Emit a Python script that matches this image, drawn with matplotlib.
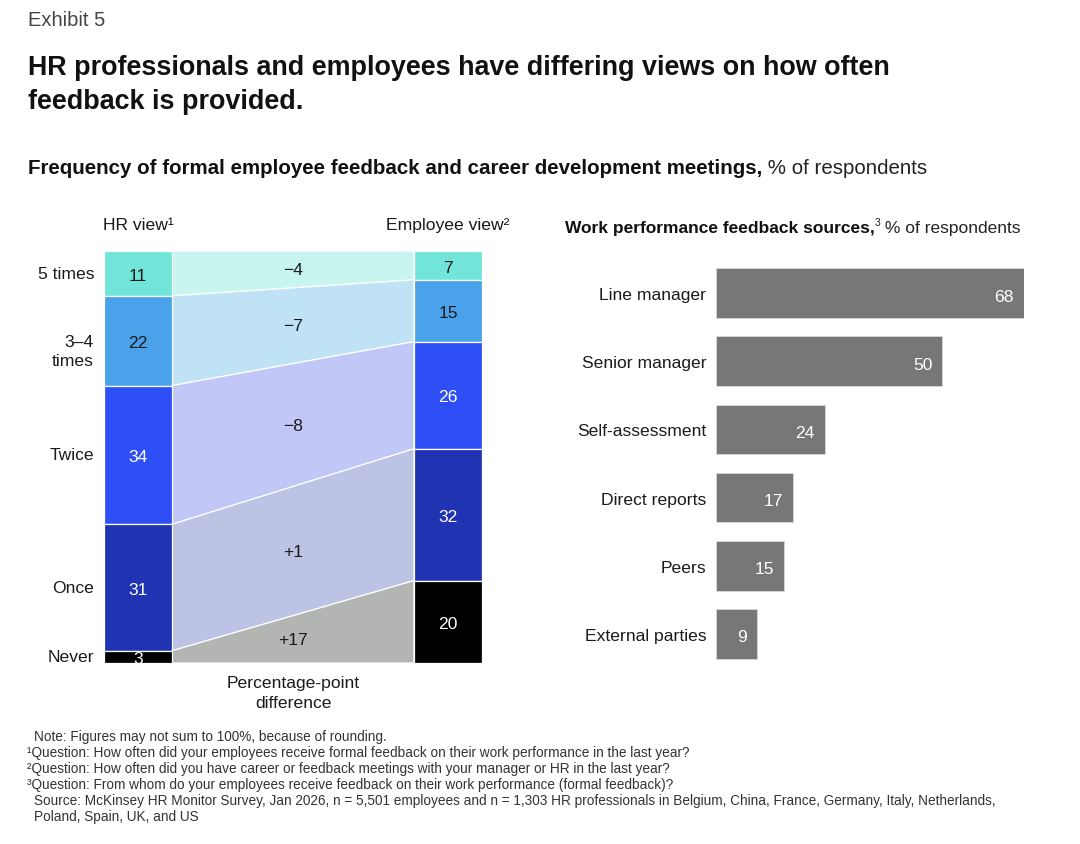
import matplotlib
matplotlib.use("Agg")
import matplotlib.pyplot as plt
from matplotlib.patches import Polygon, Rectangle
import numpy as np

plt.rcParams['font.family'] = ['Liberation Sans', 'DejaVu Sans']

# ---- data ----
freq_labels = ["5 times", "3–4\ntimes", "Twice", "Once", "Never"]
hr_view = [11, 22, 34, 31, 3]
employee_view = [7, 15, 26, 32, 20]
pp_diff = ["−4", "−7", "−8", "+1", "+17"]

sources = ["Line manager", "Senior manager", "Self-assessment", "Direct reports", "Peers", "External parties"]
source_values = [68, 50, 24, 17, 15, 9]

bar_colors = ["#71e5d8", "#4aa2ea", "#2d4ff5", "#1f33b3", "#000000"]
flow_colors = ["#c8f5f0", "#bfe3f5", "#c1c8f7", "#bcc3e4", "#b3b5b3"]
hr_text = ["#1a1a1a", "#1a1a1a", "white", "white", "white"]
emp_text = ["#1a1a1a", "#1a1a1a", "white", "white", "white"]

W, H = 1080, 845
fig = plt.figure(figsize=(W / 100, H / 100), dpi=100)
fig.patch.set_facecolor("white")

def fx(px):
    return px / W

def fy(py):
    return 1 - py / H

LBL = 12.6

# ---- titles ----
fig.text(fx(28), fy(21), "Exhibit 5", fontsize=14.5, color="#444444", va="center", ha="left")
fig.text(fx(28), fy(85), "HR professionals and employees have differing views on how often\nfeedback is provided.",
         fontsize=19.4, fontweight="bold", color="#111111", va="center", ha="left", linespacing=1.42)

renderer = fig.canvas.get_renderer()

def mixed(x_px, y_px, parts):
    x = x_px
    for txt, kw, sup in parts:
        yy = y_px - (5 if sup else 0)
        t = fig.text(fx(x), fy(yy), txt, va="center", ha="left", **kw)
        bb = t.get_window_extent(renderer=renderer)
        x += bb.width
    return x

mixed(28, 169, [("Frequency of formal employee feedback and career development meetings,",
                 dict(fontsize=14.8, fontweight="bold", color="#111111"), False),
                (" % of respondents", dict(fontsize=14.8, color="#222222"), False)])

mixed(565, 228, [("Work performance feedback sources,", dict(fontsize=12.5, fontweight="bold", color="#111111"), False),
                 ("3", dict(fontsize=7.5, color="#222222"), True),
                 (" % of respondents", dict(fontsize=12.5, color="#222222"), False)])

# ---- left: stacked comparison ----
axL = fig.add_axes([fx(104), fy(664), fx(482) - fx(104), fy(252) - fy(664)])
axL.set_xlim(0, 1)
axL.set_ylim(100, 0)
axL.axis("off")
bw = 68 / 378.0

hr_s = np.array(hr_view) * 100.0 / sum(hr_view)
emp_s = np.array(employee_view) * 100.0 / sum(employee_view)
hr_cum = np.concatenate([[0], np.cumsum(hr_s)])
emp_cum = np.concatenate([[0], np.cumsum(emp_s)])

for i in range(len(hr_view)):
    poly = Polygon([(bw, hr_cum[i]), (1 - bw, emp_cum[i]), (1 - bw, emp_cum[i + 1]), (bw, hr_cum[i + 1])],
                   closed=True, facecolor=flow_colors[i], edgecolor="white", linewidth=0.9)
    axL.add_patch(poly)
    axL.add_patch(Rectangle((0, hr_cum[i]), bw, hr_s[i], facecolor=bar_colors[i], edgecolor="white", linewidth=0.9))
    axL.add_patch(Rectangle((1 - bw, emp_cum[i]), bw, emp_s[i], facecolor=bar_colors[i], edgecolor="white", linewidth=0.9))
    axL.text(bw / 2, (hr_cum[i] + hr_cum[i + 1]) / 2 + 0.4, str(hr_view[i]), ha="center", va="center",
             fontsize=LBL, color=hr_text[i])
    axL.text(1 - bw / 2, (emp_cum[i] + emp_cum[i + 1]) / 2 + 0.4, str(employee_view[i]), ha="center", va="center",
             fontsize=LBL, color=emp_text[i])
    mid_top = (hr_cum[i] + emp_cum[i]) / 2
    mid_bot = (hr_cum[i + 1] + emp_cum[i + 1]) / 2
    axL.text(0.5, (mid_top + mid_bot) / 2, pp_diff[i], ha="center", va="center", fontsize=LBL, color="#1a1a1a")
    dy = -10 if "\n" in freq_labels[i] else 0
    axL.annotate(freq_labels[i], xy=(0, (hr_cum[i] + hr_cum[i + 1]) / 2), xytext=(-10, dy),
                 textcoords="offset pixels", ha="right", va="center", fontsize=LBL, color="#1a1a1a",
                 linespacing=1.35)

axL.text(bw / 2, -4.5, "HR view¹", ha="center", va="bottom", fontsize=LBL, color="#1a1a1a")
axL.text(1 - bw / 2, -4.5, "Employee view²", ha="center", va="bottom", fontsize=LBL, color="#1a1a1a")
axL.text(0.5, 103, "Percentage-point\ndifference", ha="center", va="top", fontsize=LBL, color="#1a1a1a",
         linespacing=1.35)

# ---- right: horizontal bars ----
axR = fig.add_axes([fx(716), fy(669), fx(1024) - fx(716), fy(260) - fy(669)])
ypos = np.arange(len(sources))
axR.barh(ypos, source_values, height=0.73, color="#777777", edgecolor="#d9d9d9", linewidth=0.6)
axR.set_xlim(0, 68)
axR.set_ylim(len(sources) - 0.5, -0.5)
axR.set_yticks(ypos)
axR.set_yticklabels(sources, fontsize=LBL, color="#1a1a1a")
axR.tick_params(axis="y", length=0, pad=7)
axR.set_xticks([])
for s in axR.spines.values():
    s.set_visible(False)
for y, v in zip(ypos, source_values):
    axR.annotate(str(v), xy=(v, y), xytext=(-10, -3), textcoords="offset pixels",
                 ha="right", va="center", fontsize=LBL, color="white")

# ---- footnotes ----
notes = [
    (34, "Note: Figures may not sum to 100%, because of rounding."),
    (27, "¹Question: How often did your employees receive formal feedback on their work performance in the last year?"),
    (27, "²Question: How often did you have career or feedback meetings with your manager or HR in the last year?"),
    (27, "³Question: From whom do your employees receive feedback on their work performance (formal feedback)?"),
    (34, "Source: McKinsey HR Monitor Survey, Jan 2026, n = 5,501 employees and n = 1,303 HR professionals in Belgium, China, France, Germany, Italy, Netherlands,"),
    (34, "Poland, Spain, UK, and US"),
]
for k, (x, line) in enumerate(notes):
    fig.text(fx(x), fy(737 + 16 * k), line, fontsize=9.85, color="#333333", va="center", ha="left")

fig.savefig("out.png", dpi=100, facecolor="white")
